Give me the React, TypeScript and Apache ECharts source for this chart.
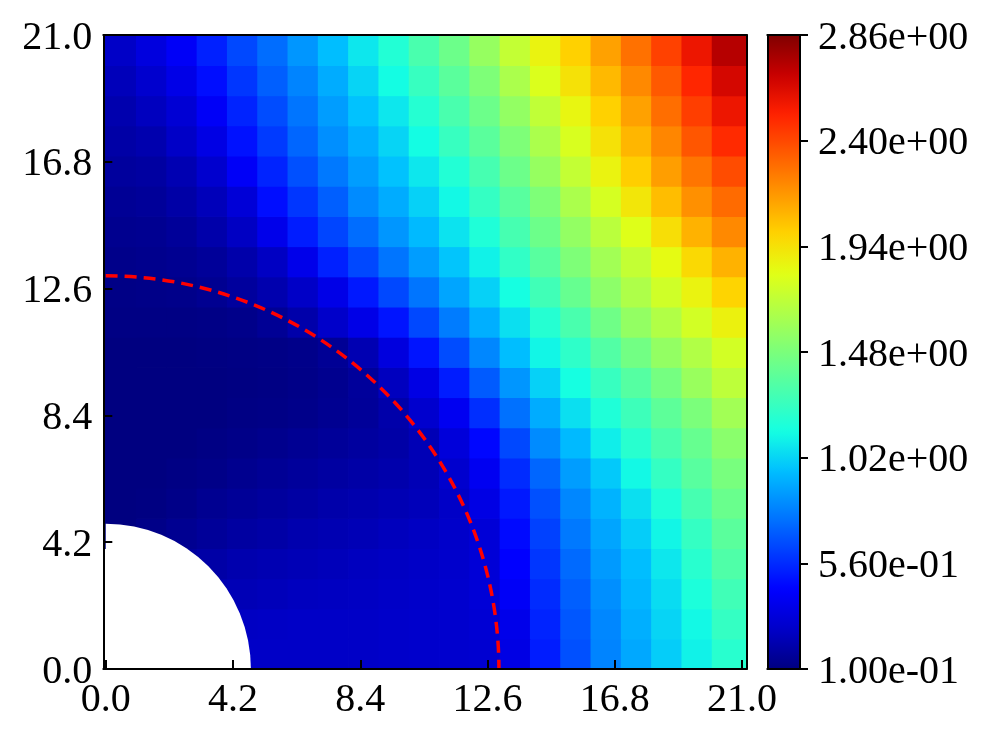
import React, { useEffect, useRef } from "react";
import * as echarts from "echarts";

// Cell centres of the field grid (1-unit cells)
const xCenters = [0.5, 1.5, 2.5, 3.5, 4.5, 5.5, 6.5, 7.5, 8.5, 9.5, 10.5, 11.5, 12.5, 13.5, 14.5, 15.5, 16.5, 17.5, 18.5, 19.5, 20.5];
const yCenters = [0.5, 1.5, 2.5, 3.5, 4.5, 5.5, 6.5, 7.5, 8.5, 9.5, 10.5, 11.5, 12.5, 13.5, 14.5, 15.5, 16.5, 17.5, 18.5, 19.5, 20.5];

// Field values, one row per y centre (null = inside the hole)
const rowY00 = [null, null, null, null, 0.27, 0.27, 0.27, 0.27, 0.27, 0.28, 0.285, 0.29, 0.30, 0.36, 0.52, 0.66, 0.80, 0.90, 1.00, 1.10, 1.20];
const rowY01 = [null, null, null, null, 0.26, 0.265, 0.27, 0.27, 0.27, 0.28, 0.285, 0.29, 0.31, 0.38, 0.54, 0.68, 0.81, 0.92, 1.02, 1.12, 1.24];
const rowY02 = [null, null, null, 0.22, 0.23, 0.24, 0.25, 0.255, 0.26, 0.27, 0.28, 0.29, 0.32, 0.42, 0.56, 0.70, 0.83, 0.94, 1.04, 1.16, 1.28];
const rowY03 = [null, null, 0.17, 0.19, 0.21, 0.22, 0.23, 0.24, 0.25, 0.26, 0.27, 0.285, 0.32, 0.445, 0.59, 0.73, 0.86, 0.96, 1.07, 1.20, 1.33];
const rowY04 = [0.10, 0.12, 0.14, 0.16, 0.18, 0.19, 0.21, 0.22, 0.23, 0.245, 0.26, 0.28, 0.32, 0.47, 0.62, 0.77, 0.89, 1.00, 1.11, 1.24, 1.37];
const rowY05 = [0.10, 0.105, 0.12, 0.14, 0.155, 0.17, 0.185, 0.20, 0.21, 0.225, 0.24, 0.27, 0.36, 0.51, 0.66, 0.81, 0.93, 1.05, 1.17, 1.30, 1.42];
const rowY06 = [0.10, 0.10, 0.11, 0.12, 0.135, 0.15, 0.165, 0.18, 0.19, 0.205, 0.23, 0.29, 0.40, 0.56, 0.72, 0.87, 0.99, 1.12, 1.24, 1.36, 1.47];
const rowY07 = [0.10, 0.10, 0.10, 0.11, 0.12, 0.13, 0.145, 0.16, 0.175, 0.19, 0.23, 0.33, 0.46, 0.64, 0.82, 0.95, 1.09, 1.20, 1.31, 1.41, 1.53];
const rowY08 = [0.10, 0.10, 0.10, 0.10, 0.11, 0.115, 0.125, 0.14, 0.16, 0.20, 0.29, 0.40, 0.57, 0.75, 0.91, 1.05, 1.17, 1.27, 1.38, 1.48, 1.61];
const rowY09 = [0.10, 0.10, 0.10, 0.10, 0.105, 0.11, 0.12, 0.135, 0.165, 0.25, 0.36, 0.52, 0.69, 0.85, 1.01, 1.14, 1.25, 1.35, 1.46, 1.58, 1.70];
const rowY10 = [0.10, 0.10, 0.10, 0.105, 0.11, 0.115, 0.125, 0.15, 0.22, 0.34, 0.50, 0.65, 0.81, 0.96, 1.11, 1.22, 1.34, 1.45, 1.56, 1.66, 1.77];
const rowY11 = [0.11, 0.11, 0.11, 0.115, 0.125, 0.15, 0.20, 0.28, 0.37, 0.50, 0.64, 0.78, 0.92, 1.05, 1.19, 1.31, 1.44, 1.56, 1.66, 1.77, 1.88];
const rowY12 = [0.115, 0.12, 0.125, 0.14, 0.17, 0.21, 0.27, 0.37, 0.51, 0.64, 0.76, 0.89, 1.01, 1.14, 1.28, 1.41, 1.54, 1.65, 1.76, 1.87, 1.99];
const rowY13 = [0.125, 0.13, 0.14, 0.16, 0.20, 0.26, 0.38, 0.53, 0.64, 0.76, 0.87, 0.98, 1.10, 1.23, 1.36, 1.49, 1.61, 1.72, 1.84, 1.97, 2.09];
const rowY14 = [0.135, 0.14, 0.16, 0.20, 0.26, 0.38, 0.52, 0.63, 0.74, 0.85, 0.95, 1.06, 1.17, 1.30, 1.43, 1.56, 1.69, 1.81, 1.95, 2.09, 2.21];
const rowY15 = [0.15, 0.16, 0.19, 0.24, 0.32, 0.48, 0.59, 0.70, 0.82, 0.91, 1.01, 1.12, 1.24, 1.36, 1.49, 1.64, 1.78, 1.92, 2.06, 2.19, 2.30];
const rowY16 = [0.17, 0.18, 0.22, 0.29, 0.42, 0.54, 0.66, 0.77, 0.87, 0.97, 1.07, 1.18, 1.30, 1.43, 1.57, 1.72, 1.87, 2.01, 2.15, 2.27, 2.39];
const rowY17 = [0.19, 0.21, 0.27, 0.36, 0.49, 0.60, 0.72, 0.83, 0.92, 1.02, 1.13, 1.25, 1.37, 1.49, 1.64, 1.79, 1.94, 2.08, 2.22, 2.36, 2.49];
const rowY18 = [0.21, 0.25, 0.31, 0.42, 0.54, 0.65, 0.76, 0.87, 0.97, 1.07, 1.19, 1.31, 1.43, 1.56, 1.71, 1.86, 2.00, 2.14, 2.29, 2.43, 2.57];
const rowY19 = [0.24, 0.29, 0.37, 0.48, 0.59, 0.70, 0.80, 0.91, 1.02, 1.13, 1.25, 1.37, 1.49, 1.64, 1.80, 1.94, 2.07, 2.21, 2.35, 2.50, 2.65];
const rowY20 = [0.27, 0.34, 0.42, 0.53, 0.64, 0.74, 0.85, 0.96, 1.07, 1.18, 1.31, 1.43, 1.57, 1.72, 1.87, 2.00, 2.14, 2.28, 2.42, 2.57, 2.73];

const fieldRows = [rowY00, rowY01, rowY02, rowY03, rowY04, rowY05, rowY06, rowY07, rowY08, rowY09, rowY10, rowY11, rowY12, rowY13, rowY14, rowY15, rowY16, rowY17, rowY18, rowY19, rowY20];

const holeRadius = [4.8];
const boundaryRadius = [13.0];
const axisTickValues = [0, 4.2, 8.4, 12.6, 16.8, 21.0];
const colorbarTickValues = [0.1, 0.56, 1.02, 1.48, 1.94, 2.4, 2.86];
const valueMin = 0.1;
const valueMax = 2.86;

const jetColors = [
  "#000080", "#0000c8", "#0000ff", "#0040ff", "#0080ff", "#00bfff", "#15ffe2", "#48ffaf",
  "#7bff7b", "#afff48", "#e2ff15", "#ffd200", "#ff9700", "#ff5c00", "#ff2100", "#c80000", "#800000",
];

const X_MIN = -0.08;
const X_MAX = 21.15;

function fmtExp(v: number): string {
  const s = v.toExponential(2);
  const [m, e] = s.split("e");
  const n = parseInt(e, 10);
  return m + "e" + (n < 0 ? "-" : "+") + String(Math.abs(n)).padStart(2, "0");
}

export default function App() {
  const ref = useRef<HTMLDivElement>(null);
  useEffect(() => {
    const chart = echarts.init(ref.current!, null, { renderer: "svg" });
    const cells: number[][] = [];
    fieldRows.forEach((row, j) => {
      row.forEach((v, i) => {
        if (v !== null && v !== undefined) cells.push([xCenters[i], yCenters[j], v as number]);
      });
    });
    const font = { fontFamily: "Liberation Serif", fontSize: 40, color: "#000" };
    const blackLine = { color: "#000", width: 2 };
    const lineOnly = {
      axisLine: { show: true, onZero: false, lineStyle: blackLine },
      axisTick: { show: false },
      axisLabel: { show: false },
      splitLine: { show: false },
    };

    chart.setOption({
      animation: false,
      grid: [
        { left: 103.3, top: 35, width: 643.3, height: 634 },
        { left: 767.3, top: 35, width: 32.7, height: 634 },
      ],
      xAxis: [
        {
          gridIndex: 0, type: "value", min: X_MIN, max: X_MAX, position: "bottom", z: 10,
          axisLine: { show: true, onZero: false, lineStyle: blackLine },
          axisTick: { show: true, inside: true, length: 9, customValues: axisTickValues, lineStyle: blackLine },
          axisLabel: { show: true, customValues: axisTickValues, formatter: (v: number) => v.toFixed(1), margin: 8, ...font },
          splitLine: { show: false },
        },
        { gridIndex: 0, type: "value", min: X_MIN, max: X_MAX, position: "top", z: 10, ...lineOnly },
        { gridIndex: 1, type: "value", min: 0, max: 1, position: "bottom", z: 10, ...lineOnly },
        { gridIndex: 1, type: "value", min: 0, max: 1, position: "top", z: 10, ...lineOnly },
      ],
      yAxis: [
        {
          gridIndex: 0, type: "value", min: 0, max: 21, position: "left", z: 10,
          axisLine: { show: true, onZero: false, lineStyle: blackLine },
          axisTick: { show: true, inside: true, length: 9, customValues: axisTickValues, lineStyle: blackLine },
          axisLabel: { show: true, customValues: axisTickValues, formatter: (v: number) => v.toFixed(1), margin: 11, ...font },
          splitLine: { show: false },
        },
        { gridIndex: 0, type: "value", min: 0, max: 21, position: "right", z: 10, ...lineOnly },
        {
          gridIndex: 1, type: "value", min: valueMin, max: valueMax, position: "right", z: 10,
          axisLine: { show: true, onZero: false, lineStyle: blackLine },
          axisTick: { show: true, inside: false, length: 8, customValues: colorbarTickValues, lineStyle: blackLine },
          axisLabel: { show: true, customValues: colorbarTickValues, formatter: (v: number) => fmtExp(v), margin: 18, ...font },
          splitLine: { show: false },
        },
        { gridIndex: 1, type: "value", min: valueMin, max: valueMax, position: "left", z: 10, ...lineOnly },
      ],
      visualMap: {
        type: "continuous",
        show: true,
        min: valueMin,
        max: valueMax,
        dimension: 2,
        seriesIndex: 0,
        calculable: false,
        hoverLink: false,
        orient: "vertical",
        left: 767.3,
        top: 35,
        itemWidth: 32.7,
        itemHeight: 634,
        padding: 0,
        inRange: { color: jetColors },
      },
      series: [
        {
          type: "custom",
          xAxisIndex: 0,
          yAxisIndex: 0,
          data: cells,
          encode: { x: 0, y: 1 },
          clip: true,
          silent: true,
          z: 2,
          renderItem: (params: any, api: any) => {
            const x = api.value(0);
            const y = api.value(1);
            const xl = x - 0.5 <= 0 ? X_MIN : x - 0.5;
            const xr = x + 0.5 >= 21 ? X_MAX : x + 0.5;
            const p0 = api.coord([xl, y + 0.5]);
            const p1 = api.coord([xr, y - 0.5]);
            return {
              type: "rect",
              shape: { x: p0[0], y: p0[1], width: p1[0] - p0[0] + 0.8, height: p1[1] - p0[1] + 0.8 },
              style: { fill: api.visual("color") },
            };
          },
        },
        {
          type: "custom",
          xAxisIndex: 0,
          yAxisIndex: 0,
          data: holeRadius.map((r) => [0, 0, r]),
          encode: { x: 0, y: 1 },
          clip: true,
          silent: true,
          z: 3,
          renderItem: (params: any, api: any) => {
            const c = api.coord([api.value(0), api.value(1)]);
            const s = api.size([api.value(2), api.value(2)]);
            const r = (s[0] + s[1]) / 2;
            return {
              type: "sector",
              shape: { cx: c[0], cy: c[1], r0: 0, r, startAngle: -Math.PI / 2, endAngle: 0, clockwise: true },
              style: { fill: "#ffffff" },
            };
          },
        },
        {
          type: "custom",
          xAxisIndex: 0,
          yAxisIndex: 0,
          data: boundaryRadius.map((r) => [0, 0, r]),
          encode: { x: 0, y: 1 },
          clip: true,
          silent: true,
          z: 4,
          renderItem: (params: any, api: any) => {
            const c = api.coord([api.value(0), api.value(1)]);
            const s = api.size([api.value(2), api.value(2)]);
            const r = (s[0] + s[1]) / 2;
            return {
              type: "arc",
              shape: { cx: c[0], cy: c[1], r, startAngle: -Math.PI / 2, endAngle: 0, clockwise: true },
              style: { stroke: "#ff0000", lineWidth: 3.5, lineDash: [12, 7], fill: "none" },
            };
          },
        },
      ],
    });
    return () => chart.dispose();
  }, []);
  return <div ref={ref} style={{ position: "fixed", left: 0, top: 0, width: 997, height: 739 }} />;
}
